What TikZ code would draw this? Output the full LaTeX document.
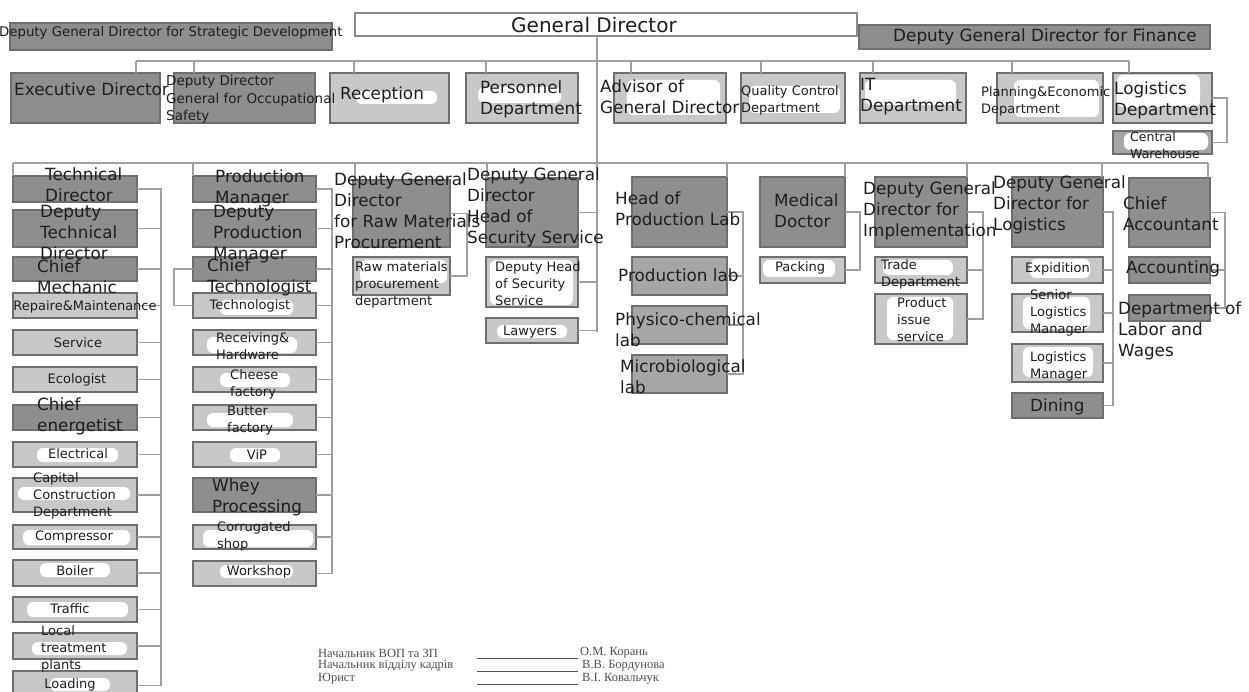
\documentclass[tikz,border=0pt]{standalone}
\usepackage{fontspec}
\setmainfont{DejaVu Sans}
\newfontfamily\ftfont{Liberation Serif}
\definecolor{dk}{HTML}{8E8E8E}
\definecolor{lt}{HTML}{C8C8C8}
\definecolor{md}{HTML}{A6A6A6}
\definecolor{bd}{HTML}{6E6E6E}
\definecolor{ln}{HTML}{A0A0A0}
\definecolor{tx}{HTML}{1E1E1E}
\definecolor{ftc}{HTML}{505050}
\tikzset{
 box/.style={draw=bd, line width=1.8pt, inner sep=0pt, outer sep=0pt, anchor=north west},
 dbox/.style={box, fill=dk},
 lbox/.style={box, fill=lt},
 mbox/.style={box, fill=md},
 wbox/.style={box, fill=white, draw=bd!80},
 conn/.style={draw=ln, line width=1.2pt},
 lbl/.style={inner sep=0pt, text=tx, align=left, anchor=west},
 big/.style={lbl, font=\fontsize{16.8}{21}\selectfont},
 sml/.style={lbl, font=\fontsize{13}{17}\selectfont},
 bigc/.style={big, anchor=center, align=center},
 smlc/.style={sml, anchor=center, align=center},
 blob/.style={fill=white, rounded corners=6pt},
 ft/.style={inner sep=0pt, anchor=west, text=ftc, font=\ftfont\fontsize{12.5}{13}\selectfont},
 fline/.style={draw=ftc, line width=0.7pt},
}
\newcommand\bx[6]{\node[#2, minimum width={#5pt-#3pt}, minimum height={#6pt-#4pt}] (#1) at (#3,#4) {};}
\newcommand\tl[5]{\node[#2] (#1) at (#3,#4) {#5};}
\newcommand\bl[4]{\fill[blob] (#1,#2) rectangle (#3,#4);}
\newcommand\dr[4]{\coordinate (#1) at (#2,#3); \draw[conn] (#1) -- (#1 |- #4.north);}
\newcommand\br[4]{\coordinate (#1) at (#2,0); \draw[conn] (#3.east) -- (#3.east -| #1) -- (#4.east -| #1) -- (#4.east);}
\newcommand\st[2]{\draw[conn] (#2.east) -- (#2.east -| #1);}
\begin{document}
\begin{tikzpicture}[x=1pt,y=-1pt]
\useasboundingbox (0,0) rectangle (1249,692);
\fill[white] (0,0) rectangle (1249,692);

% ---------- top level
\bx{gd}{wbox}{355}{13}{857}{36}
\bx{dgs}{dbox}{10}{23}{332}{50}
\bx{dgf}{dbox}{859}{25}{1210}{49}

% ---------- row 2
\bx{exe}{dbox}{11}{73}{160}{123}
\bx{ddos}{dbox}{174}{73}{315}{123}
\bx{rec}{lbox}{330}{73}{449}{123}
\bx{per}{lbox}{466}{73}{578}{123}
\bx{adv}{lbox}{614}{73}{726}{123}
\bx{qc}{lbox}{741}{73}{845}{123}
\bx{itd}{lbox}{860}{73}{966}{123}
\bx{ped}{lbox}{997}{73}{1103}{123}
\bx{lgd}{lbox}{1113}{73}{1212}{123}
\bx{cwh}{mbox}{1113}{131}{1212}{154}

% ---------- column A
\bx{tdir}{dbox}{13}{176}{137}{202}
\bx{dtd}{dbox}{13}{210}{137}{247}
\bx{cme}{dbox}{13}{257}{137}{281}
\bx{rep}{lbox}{13}{293}{137}{318}
\bx{ser}{lbox}{13}{330}{137}{355}
\bx{eco}{lbox}{13}{367}{137}{392}
\bx{cen}{dbox}{13}{405}{137}{430}
\bx{ele}{lbox}{13}{442}{137}{467}
\bx{cap}{lbox}{13}{478}{137}{512}
\bx{com}{lbox}{13}{525}{137}{549}
\bx{boi}{lbox}{13}{560}{137}{586}
\bx{tra}{lbox}{13}{597}{137}{622}
\bx{loc}{lbox}{13}{633}{137}{659}
\bx{lod}{lbox}{13}{671}{137}{700}

% ---------- column B
\bx{pm}{dbox}{193}{176}{316}{202}
\bx{dpm}{dbox}{193}{210}{316}{247}
\bx{ctc}{dbox}{193}{257}{316}{281}
\bx{tec}{lbox}{193}{293}{316}{318}
\bx{rcv}{lbox}{193}{330}{316}{355}
\bx{chs}{lbox}{193}{367}{316}{392}
\bx{but}{lbox}{193}{405}{316}{430}
\bx{vip}{lbox}{193}{442}{316}{467}
\bx{why}{dbox}{193}{478}{316}{512}
\bx{cor}{lbox}{193}{525}{316}{549}
\bx{wks}{lbox}{193}{561}{316}{586}

% ---------- columns C..I
\bx{dgr}{dbox}{353}{180}{450}{247}
\bx{rmp}{lbox}{353}{257}{450}{295}
\bx{dss}{dbox}{486}{178}{578}{247}
\bx{dhs}{lbox}{486}{257}{578}{307}
\bx{law}{lbox}{486}{318}{578}{343}
\bx{hpl}{dbox}{632}{177}{727}{247}
\bx{prl}{mbox}{632}{257}{727}{295}
\bx{pcl}{mbox}{632}{306}{727}{344}
\bx{mbl}{mbox}{632}{355}{727}{393}
\bx{med}{dbox}{760}{177}{845}{247}
\bx{pak}{lbox}{760}{257}{845}{283}
\bx{dgi}{dbox}{875}{177}{967}{247}
\bx{trd}{lbox}{875}{257}{967}{283}
\bx{pis}{lbox}{875}{294}{967}{344}
\bx{dgl}{dbox}{1012}{177}{1103}{247}
\bx{exd}{lbox}{1012}{257}{1103}{283}
\bx{slm}{lbox}{1012}{294}{1103}{332}
\bx{lmg}{lbox}{1012}{344}{1103}{382}
\bx{din}{dbox}{1012}{393}{1103}{418}
\bx{cac}{dbox}{1129}{178}{1210}{247}
\bx{acc}{dbox}{1129}{257}{1210}{283}
\bx{dlw}{dbox}{1129}{295}{1210}{321}

% ---------- white blobs
\bl{356}{91}{437}{104}
\bl{478}{87}{561}{103}
\bl{627}{80}{720}{115}
\bl{749}{86}{840}{113}
\bl{865}{80}{956}{105}
\bl{1014}{80}{1099}{117}
\bl{1117}{75}{1200}{107}
\bl{1124}{133}{1208}{150}
\bl{220}{300}{293}{315}
\bl{207}{337}{297}{353}
\bl{220}{373}{290}{387}
\bl{207}{413}{293}{427}
\bl{230}{448}{280}{462}
\bl{203}{530}{313}{547}
\bl{220}{565}{293}{578}
\bl{37}{448}{118}{462}
\bl{18}{487}{130}{500}
\bl{23}{530}{130}{545}
\bl{40}{563}{110}{577}
\bl{27}{602}{128}{617}
\bl{32}{642}{127}{655}
\bl{50}{678}{110}{691}
\bl{360}{260}{447}{283}
\bl{490}{260}{573}{305}
\bl{497}{325}{567}{338}
\bl{763}{260}{835}{277}
\bl{883}{260}{953}{275}
\bl{887}{297}{953}{340}
\bl{1030}{259}{1090}{278}
\bl{1023}{297}{1090}{329}
\bl{1023}{347}{1093}{377}

% ---------- connectors
\coordinate (cs) at (597,332);
\draw[conn] (gd.south -| cs) -- (cs);
\coordinate (b1a) at (136,61); \coordinate (b1b) at (1129,61);
\draw[conn] (b1a) -- (b1b);
\dr{d1}{136}{61}{exe}
\dr{d2}{194}{61}{ddos}
\dr{d3}{354}{61}{rec}
\dr{d4}{486}{61}{per}
\dr{d5}{631}{61}{adv}
\dr{d6}{761}{61}{qc}
\dr{d7}{873}{61}{itd}
\dr{d8}{1012}{61}{ped}
\dr{d9}{1129}{61}{lgd}
\coordinate (lgc) at (1227,0);
\draw[conn] (lgd.east) -- (lgd.east -| lgc) |- (cwh.east);

\coordinate (b2a) at (13,163); \coordinate (b2b) at (1208,163);
\draw[conn] (b2a) -- (b2b);
\dr{e1}{13}{163}{tdir}
\dr{e2}{193}{163}{pm}
\dr{e3}{355}{163}{dgr}
\dr{e4}{487}{163}{dss}
\dr{e5}{727}{163}{hpl}
\dr{e6}{845}{163}{med}
\dr{e7}{967}{163}{dgi}
\dr{e8}{1102}{163}{dgl}
\dr{e9}{1208}{163}{cac}

\br{spA}{161}{tdir}{lod}
\foreach \n in {dtd,cme,rep,ser,eco,cen,ele,cap,com,boi,tra,loc} {\st{spA}{\n}}
\br{spB}{332}{pm}{wks}
\foreach \n in {dpm,ctc,tec,rcv,chs,but,vip,why,cor} {\st{spB}{\n}}
\coordinate (ctb) at (174,0);
\draw[conn] (ctc.west) -- (ctc.west -| ctb) -- (tec.west -| ctb) -- (tec.west);
\br{spC}{467}{dgr}{rmp}
\st{cs}{dss} \st{cs}{dhs} \st{cs}{law}
\br{spE}{743}{hpl}{mbl}
\st{spE}{prl} \st{spE}{pcl}
\br{spF}{860}{med}{pak}
\br{spG}{983}{dgi}{pis}
\st{spG}{trd}
\br{spH}{1113}{dgl}{din}
\st{spH}{exd} \st{spH}{slm} \st{spH}{lmg}
\br{spI}{1225}{cac}{dlw}
\st{spI}{acc}

% ---------- texts
\tl{gdt}{bigc, font=\fontsize{20}{23}\selectfont}{594}{25}{General Director}
\tl{dgst}{lbl, font=\fontsize{13.3}{15}\selectfont}{-1}{33}{Deputy General Director for Strategic Development}
\tl{dgft}{bigc}{1045}{37}{Deputy General Director for Finance}

\tl{exet}{big}{14}{89}{Executive Director}
\tl{ddost}{lbl, font=\fontsize{13.5}{17.5}\selectfont}{166}{99.5}{Deputy Director\\General for Occupational\\Safety}
\tl{rect}{big}{340}{95}{Reception}
\tl{pert}{big}{480}{99.5}{Personnel\\Department}
\tl{advt}{big}{600}{96.5}{Advisor of\\General Director}
\tl{qct}{sml}{741}{100.5}{Quality Control\\Department}
\tl{itdt}{big}{860}{96.5}{IT\\Department}
\tl{pedt}{sml}{981}{101}{Planning\&Economic\\Department}
\tl{lgdt}{big}{1114}{100}{Logistics\\Department}
\tl{cwht}{lbl, font=\fontsize{12.5}{17}\selectfont}{1130}{145.5}{Central\\Warehouse}

\tl{tdirt}{big}{45}{185}{Technical\\Director}
\tl{dtdt}{big}{40}{232.5}{Deputy\\Technical\\Director}
\tl{cmet}{big}{37}{276.5}{Chief\\Mechanic}
\tl{rept}{smlc}{85}{307}{Repaire\&Maintenance}
\tl{sert}{smlc}{78}{343}{Service}
\tl{ecot}{smlc}{77}{380}{Ecologist}
\tl{cent}{big}{37}{416}{Chief\\energetist}
\tl{elet}{smlc}{78}{454}{Electrical}
\tl{capt}{sml}{33}{496}{Capital\\Construction\\Department}
\tl{comt}{smlc}{74}{537}{Compressor}
\tl{boit}{smlc}{75}{571}{Boiler}
\tl{trat}{smlc}{70}{609}{Traffic}
\tl{loct}{sml}{41}{648.5}{Local\\treatment\\plants}
\tl{lodt}{smlc}{70}{685}{Loading}

\tl{pmt}{big}{215}{188.5}{Production\\Manager}
\tl{dpmt}{big}{213}{234.5}{Deputy\\Production\\Manager}
\tl{ctct}{big}{207}{277.5}{Chief\\Technologist}
\tl{tect}{smlc}{250}{306}{Technologist}
\tl{rcvt}{sml}{216}{346.5}{Receiving\&\\Hardware}
\tl{chst}{sml}{230}{384.5}{Cheese\\factory}
\tl{butt}{sml}{227}{420.5}{Butter\\factory}
\tl{vipt}{smlc}{257}{455}{ViP}
\tl{whyt}{big}{212}{497.5}{Whey\\Processing}
\tl{cort}{sml}{217}{536}{Corrugated\\shop}
\tl{wkst}{smlc}{259}{572}{Workshop}

\tl{dgrt}{big}{334}{210.5}{Deputy General\\Director\\for Raw Materials\\Procurement}
\tl{rmpt}{sml}{355}{284.5}{Raw materials\\procurement\\department}
\tl{dsst}{big}{467}{207}{Deputy General\\Director\\Head of\\Security Service}
\tl{dhst}{sml}{495}{283.5}{Deputy Head\\of Security\\Service}
\tl{lawt}{smlc}{530}{332}{Lawyers}
\tl{hplt}{big}{615}{208.5}{Head of\\Production Lab}
\tl{prlt}{big}{618}{275}{Production lab}
\tl{pclt}{big}{615}{330}{Physico-chemical\\lab}
\tl{mblt}{big}{620}{377}{Microbiological\\lab}
\tl{medt}{big}{774}{210.5}{Medical\\Doctor}
\tl{pakt}{sml}{775}{268}{Packing}
\tl{dgit}{big}{863}{210.5}{Deputy General\\Director for\\Implementation}
\tl{trdt}{sml}{881}{274.5}{Trade\\Department}
\tl{pist}{sml}{897}{319.5}{Product\\issue\\service}
\tl{dglt}{big}{993}{205}{Deputy General\\Director for\\Logistics}
\tl{exdt}{sml}{1025}{269}{Expidition}
\tl{slmt}{sml}{1030}{313}{Senior\\Logistics\\Manager}
\tl{lmgt}{sml}{1030}{366.5}{Logistics\\Manager}
\tl{dint}{big}{1030}{407}{Dining}
\tl{cact}{big}{1123}{214}{Chief\\Accountant}
\tl{acct}{big}{1126}{269}{Accounting}
\tl{dlwt}{big}{1118}{331}{Department of\\Labor and\\Wages}

% ---------- footer
\tl{f1}{ft}{318}{653}{Начальник ВОП та ЗП}
\tl{f2}{ft}{318}{666}{Начальник відділу кадрів}
\tl{f3}{ft}{318}{679}{Юрист}
\tl{n1}{ft}{580}{653}{О.М. Корань}
\tl{n2}{ft}{582}{666}{В.В. Бордунова}
\tl{n3}{ft}{582}{679}{В.І. Ковальчук}
\draw[fline] (477,658) -- (578,658);
\draw[fline] (477,671) -- (578,671);
\draw[fline] (477,684) -- (578,684);
\end{tikzpicture}
\end{document}
